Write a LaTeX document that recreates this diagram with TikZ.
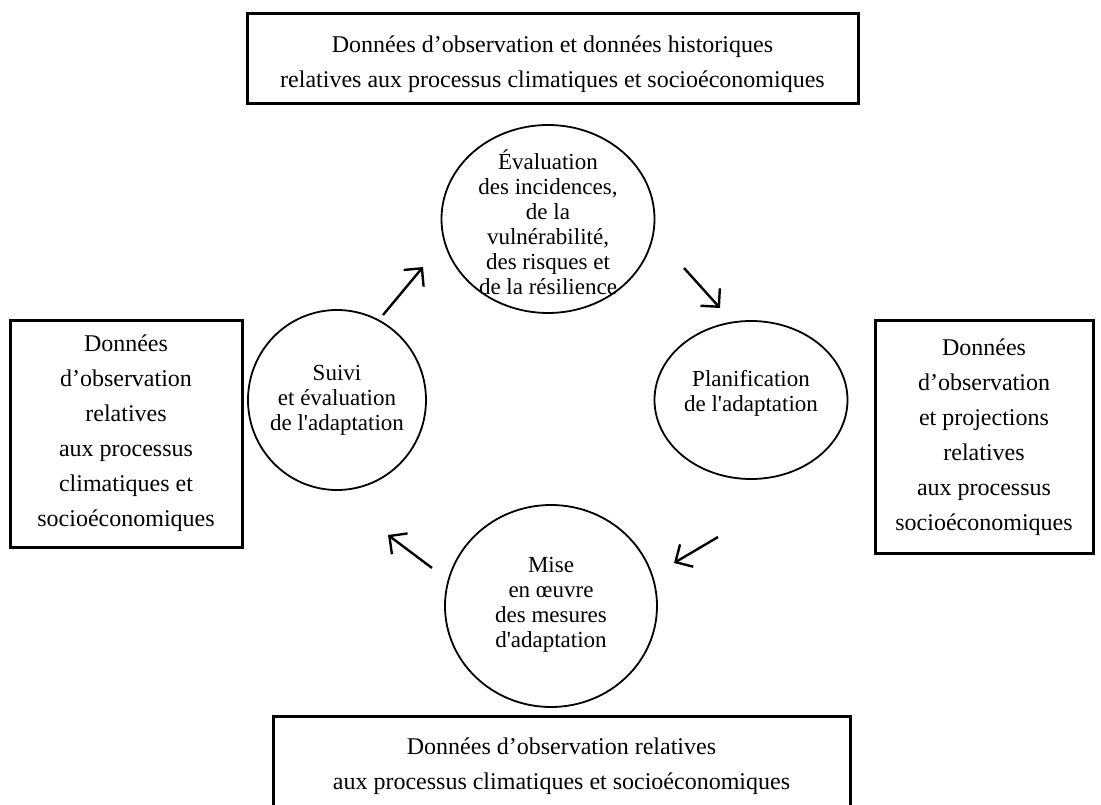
\documentclass[tikz,border=0pt]{standalone}
\usepackage{fontspec}
\setmainfont{Liberation Serif}
\usetikzlibrary{arrows.meta,shapes.geometric}
\begin{document}
\begin{tikzpicture}[x=1pt,y=-1pt,
  box/.style={draw, line width=3pt, rectangle, inner sep=0pt},
  btext/.style={align=center, inner sep=0pt, font=\fontsize{24}{35}\selectfont},
  ring/.style={draw, line width=1.8pt, ellipse, inner sep=0pt},
  ctext/.style={align=center, inner sep=0pt, font=\fontsize{23}{25}\selectfont},
  arr/.style={line width=2.4pt, -{Straight Barb[length=13pt,width=26pt]}}]
\clip (0,0) rectangle (1101,805);
\fill[white] (0,0) rectangle (1101,805);
% boxes
\node[box, minimum width=611, minimum height=90] (topbox) at (552.5,59) {};
\node[btext] (toptext) at (552.5,64)
  {Données d’observation et données historiques\\relatives aux processus climatiques et socioéconomiques};
\node[box, minimum width=232, minimum height=227] (leftbox) at (126,433.5) {};
\node[btext] (lefttext) at (126,433.5)
  {Données\\d’observation\\relatives\\aux processus\\climatiques et\\socioéconomiques};
\node[box, minimum width=218, minimum height=233] (rightbox) at (984,436.5) {};
\node[btext] (righttext) at (984,437.5)
  {Données\\d’observation\\et projections\\relatives\\aux processus\\socioéconomiques};
\node[box, minimum width=577, minimum height=97] (botbox) at (561.5,764.5) {};
\node[btext] (bottext) at (561.5,766.5)
  {Données d’observation relatives\\aux processus climatiques et socioéconomiques};
% circles
\node[ring, minimum width=213, minimum height=188] (evalc) at (548,219) {};
\node[ctext] (evalt) at (548,222) {Évaluation\\des incidences,\\de la\\vulnérabilité,\\des risques et\\de la résilience};
\node[ring, minimum width=178, minimum height=180] (suivic) at (337,400) {};
\node[ctext] (suivit) at (337,400) {Suivi\\et évaluation\\de l\textquotesingle adaptation};
\node[ring, minimum width=193, minimum height=158] (planc) at (751,400) {};
\node[ctext] (plant) at (751,393) {Planification\\de l\textquotesingle adaptation};
\node[ring, minimum width=212, minimum height=202] (misec) at (551,606) {};
\node[ctext] (miset) at (551,605) {Mise\\en œuvre\\des mesures\\d\textquotesingle adaptation};
% arrows
\coordinate (a1s) at (383,315); \coordinate (a1e) at (423,267);
\coordinate (a2s) at (684,268); \coordinate (a2e) at (720,308);
\coordinate (a3s) at (718,537); \coordinate (a3e) at (674,563);
\coordinate (a4s) at (432,568); \coordinate (a4e) at (388,535);
\draw[arr] (a1s) -- (a1e);
\draw[arr] (a2s) -- (a2e);
\draw[arr] (a3s) -- (a3e);
\draw[arr] (a4s) -- (a4e);
\end{tikzpicture}
\end{document}
